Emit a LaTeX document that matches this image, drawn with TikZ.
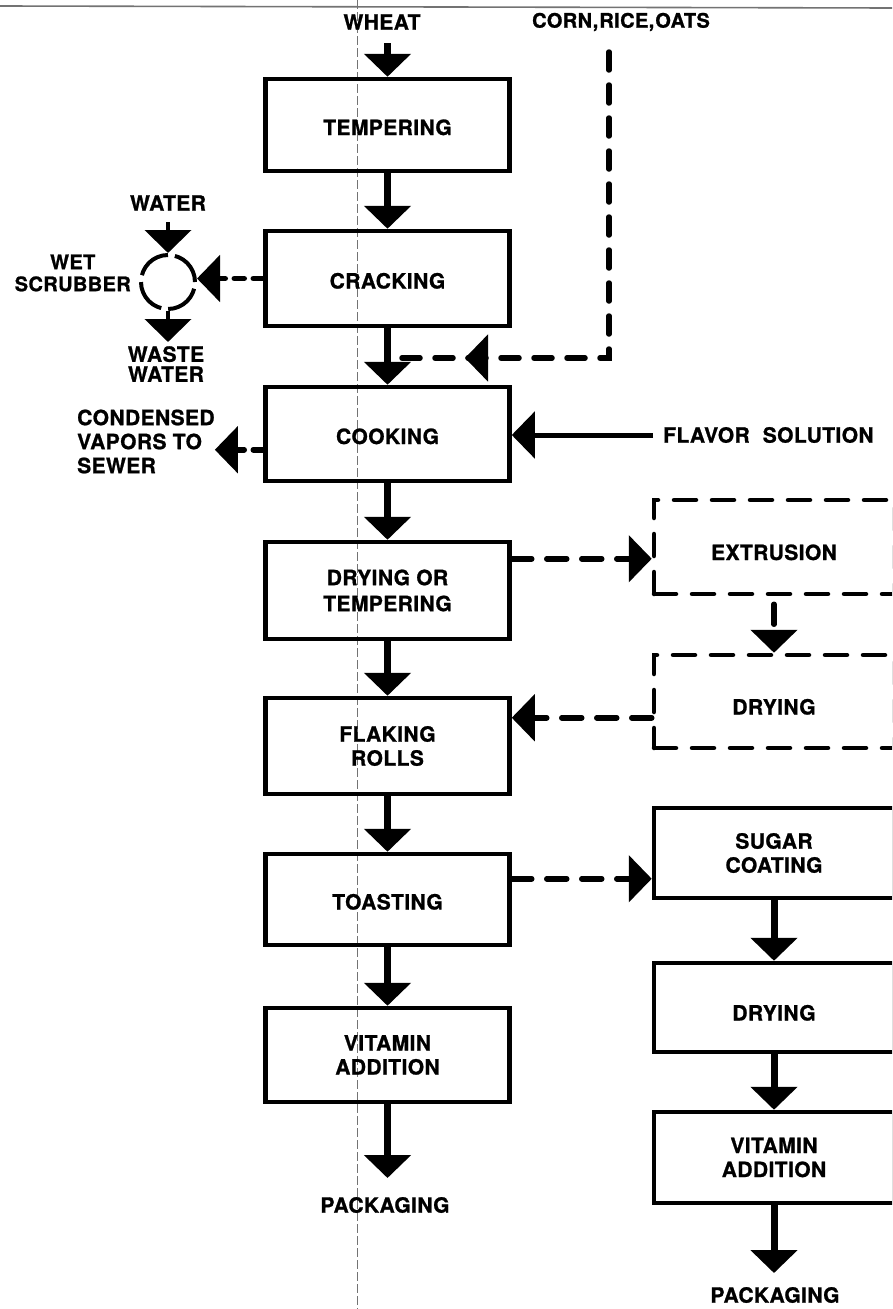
\documentclass[tikz,border=0pt]{standalone}
\usepackage{fontspec}
\setmainfont{TeX Gyre Heros}[LetterSpace=2,BoldFeatures={FakeBold=1}]
\usetikzlibrary{arrows.meta,decorations.markings}
\newcommand\lblfont{\fontsize{21}{24}\selectfont\bfseries}
\tikzset{
  pbox/.style={draw, line width=4.5pt, minimum width=244pt, inner sep=0pt, align=center, font=\lblfont},
  rbox/.style={pbox, minimum width=240pt, dash pattern=on 22pt off 16pt, line cap=round},
  sl/.style={text height=20pt, text depth=0pt},
  slr/.style={text height=26pt, text depth=0pt},
  lbl/.style={font=\lblfont, align=center, inner sep=0pt},
  flow/.style={line width=7pt, ->},
  sflow/.style={line width=4.5pt, ->},
  dflow/.style={line width=5.5pt, ->, dash pattern=on 20pt off 15pt, line cap=round},
  dline/.style={line width=5.5pt, dash pattern=on 18pt off 15pt, line cap=round},
  scan/.style={line width=0.8pt, black!55}
}
\begin{document}
\begin{tikzpicture}[x=1pt,y=-1pt,>={Triangle[width=46pt,length=23pt]}]
\useasboundingbox (0,0) rectangle (892,1309);
\clip (0,0) rectangle (892,1309);
\fill[white] (0,0) rectangle (892,1309);
% scan artefacts
\draw[scan, line width=1.6pt] (0,6) -- (892,8);
\draw[scan, dash pattern=on 9pt off 3pt] (357,0) -- (357,1309);

% main column
\node[pbox, sl, minimum height=92pt] (temp) at (387.5,125) {TEMPERING};
\node[pbox, sl, minimum height=95pt] (crack) at (387.5,278.5) {CRACKING};
\node[pbox, sl, minimum height=94pt] (cook) at (387.5,434) {COOKING};
\node[pbox, minimum height=97pt] (dry1) at (387.5,590.5) {DRYING OR\\[2pt]TEMPERING};
\node[pbox, minimum height=96pt] (flake) at (387.5,746) {FLAKING\\ROLLS};
\node[pbox, sl, minimum height=91pt] (toast) at (387.5,899.5) {TOASTING};
\node[pbox, minimum height=94pt] (vit1) at (387.5,1055) {VITAMIN\\ADDITION};

% right column
\node[rbox, slr, minimum height=94pt] (extr) at (774,547) {EXTRUSION};
\node[rbox, slr, minimum height=93pt] (dry2) at (774,701.5) {DRYING};
\node[pbox, minimum width=240pt, minimum height=90pt] (sugar) at (774,853) {SUGAR\\COATING};
\node[pbox, slr, minimum width=240pt, minimum height=89pt] (dry3) at (774,1007.5) {DRYING};
\node[pbox, minimum width=240pt, minimum height=91pt] (vit2) at (774,1157.5) {VITAMIN\\ADDITION};

% labels
\node[lbl] (wheat) at (382,22) {WHEAT};
\node[lbl, font=\fontsize{20}{24}\selectfont\bfseries] (corn) at (621,22) {CORN,\hspace{1pt}RICE,\hspace{1pt}OATS};
\node[lbl] (pack1) at (385,1205) {PACKAGING};
\node[lbl] (pack2) at (775,1295) {PACKAGING};
\node[lbl] (water) at (168,203) {WATER};
\node[lbl, anchor=east, font=\fontsize{20}{24}\selectfont\bfseries] (wetscr) at (131,273) {WET\\[-2pt]SCRUBBER};
\node[lbl] (waste) at (166,364) {WASTE\\[-4pt]WATER};
\node[lbl, align=left, anchor=west] (cond) at (77,441.5) {CONDENSED\\VAPORS TO\\SEWER};
\node[lbl, anchor=west] (flavor) at (663,435) {FLAVOR\hspace{13pt}SOLUTION};

% wet scrubber
\node[circle, draw, line width=4pt, minimum size=54pt, inner sep=0pt,
      dash pattern=on 35.4pt off 7pt] (scrub) at (168,282) {};

% main flow
\coordinate (wtop) at (387.5,43);
\draw[flow] (wtop) -- (temp.north);
\draw[flow] (temp.south) -- (crack.north);
\draw[flow] (crack.south) -- (cook.north);
\draw[flow] (cook.south) -- (dry1.north);
\draw[flow] (dry1.south) -- (flake.north);
\draw[flow] (flake.south) -- (toast.north);
\draw[flow] (toast.south) -- (vit1.north);
\coordinate (p1) at (387.5,1178);
\draw[flow] (vit1.south) -- (p1);
\draw[flow] (sugar.south) -- (dry3.north);
\draw[flow] (dry3.south) -- (vit2.north);
\coordinate (p2) at (774,1273);
\draw[flow] (vit2.south) -- (p2);

% scrubber connections
\coordinate (wat) at (168,222);
\draw[sflow] (wat) -- (scrub.north);
\coordinate (wst) at (168,342);
\draw[sflow] (scrub.south) -- (wst);
\draw[dflow, dash pattern=on 10pt off 9pt] (crack.west) -- (crack.west -| scrub.east);

% condensed vapours
\coordinate (cv) at ([yshift=-65pt]cook.north west);
\draw[dflow, dash pattern=on 10pt off 9pt] (cv) -- (cv -| cond.east);

% flavor solution
\draw[flow, line width=5pt] ([xshift=-10pt]flavor.west) -- (flavor.west -| cook.east);

% side branches
\coordinate (a1) at ([yshift=-19pt]dry1.north east);
\draw[dflow] (a1) -- (a1 -| extr.west);
\coordinate (a2) at ([yshift=-22pt]flake.north east);
\draw[dflow] (a2 -| dry2.west) -- (a2);
\coordinate (a3) at ([yshift=-27pt]toast.north east);
\draw[dflow] (a3) -- (a3 -| sugar.west);
\draw[dflow, dash phase=27pt] (extr.south) -- (dry2.north);

% corn, rice, oats
\coordinate (c0) at (609,52);
\coordinate (c1) at (609,358);
\draw[dline, decoration={markings, mark=at position 450pt with {\arrow{>}}}, postaction={decorate}]
  (c0) -- (c1) -- (c1 -| crack.south);
\end{tikzpicture}
\end{document}
